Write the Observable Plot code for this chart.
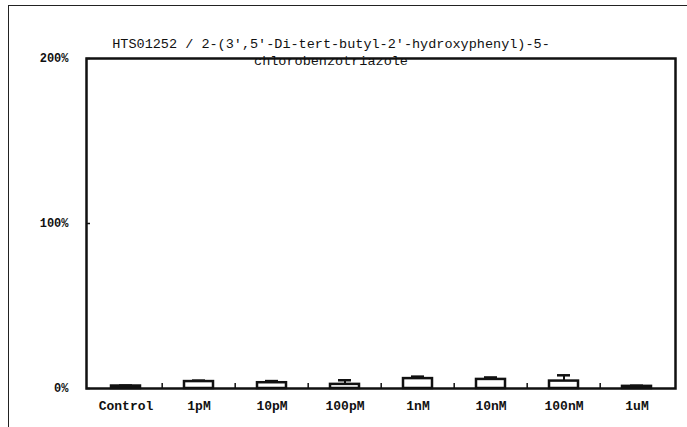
<!DOCTYPE html>
<html>
<head>
<meta charset="utf-8">
<script src="https://cdn.jsdelivr.net/npm/d3@7"></script>
<script src="https://cdn.jsdelivr.net/npm/@observablehq/plot@0.6"></script>
<style>
  html, body { margin: 0; padding: 0; background: #fff; }
  #wrap { position: relative; width: 687px; height: 427px; overflow: hidden; }
  #frame { position: absolute; left: 8px; top: 5px; width: 700px; height: 440px; border-left: 1.5px solid #222; border-top: 1.5px solid #222; pointer-events: none; }
  #chart { position: absolute; left: 0; top: 0; }
</style>
</head>
<body>
<div id="wrap"><div id="chart"></div><div id="frame"></div></div>
<script>
const categories = ["Control", "1pM", "10pM", "100pM", "1nM", "10nM", "100nM", "1uM"];
const values = [1.5, 4.2, 3.5, 2.5, 6.0, 5.5, 4.5, 1.3];
const errors = [0.3, 0.6, 1.0, 2.5, 1.2, 1.2, 3.5, 0.4];
const yTicks = [0, 100, 200];
const titleLines = ["HTS01252 / 2-(3',5'-Di-tert-butyl-2'-hydroxyphenyl)-5-", "chlorobenzotriazole"];

const data = categories.map((c, i) => ({cat: c, v: values[i], e: errors[i]}));
const W = 687, H = 427, ML = 86, MR = 12, MT = 58, MB = 39;
const bw = (W - ML - MR) / categories.length;
const font = "Liberation Mono, DejaVu Sans Mono, monospace";

const chart = Plot.plot({
  width: W, height: H,
  marginLeft: ML, marginRight: MR, marginTop: MT, marginBottom: MB,
  style: {fontFamily: font, background: "white", color: "#111"},
  x: {domain: categories, padding: 0, label: null},
  y: {domain: [0, 200], label: null},
  marks: [
    Plot.axisY({ticks: yTicks, tickFormat: d => d + "%", tickSize: -4, tickPadding: 22, fontSize: 12, fontWeight: "bold", stroke: "#111", strokeWidth: 1.5}),
    Plot.axisX({tickSize: 0, tickPadding: 12, fontSize: 13, fontWeight: "bold"}),
    Plot.ruleX(categories.slice(1), {x: d => d, dx: -bw / 2, y1: 0, y2: 3, stroke: "#111", strokeWidth: 1.5}),
    Plot.ruleX(data, {x: "cat", y1: "v", y2: d => d.v + d.e, stroke: "#111", strokeWidth: 2}),
    Plot.tickY(data, {x: "cat", y: d => d.v + d.e, stroke: "#111", strokeWidth: 2.5, insetLeft: 30, insetRight: 30}),
    Plot.barY(data, {x: "cat", y: "v", fill: "white", stroke: "#111", strokeWidth: 2.5, insetLeft: 22, insetRight: 22}),
    Plot.frame({stroke: "#111", strokeWidth: 2.5}),
    Plot.text([titleLines[0]], {frameAnchor: "top", dy: -20, text: d => d, fontSize: 13.5, fontFamily: font, fill: "#111", dx: -50}),
    Plot.text([titleLines[1]], {frameAnchor: "top", dy: -3, text: d => d, fontSize: 13.5, fontFamily: font, fill: "#111", dx: -50})
  ]
});
document.getElementById("chart").appendChild(chart);
</script>
</body>
</html>
